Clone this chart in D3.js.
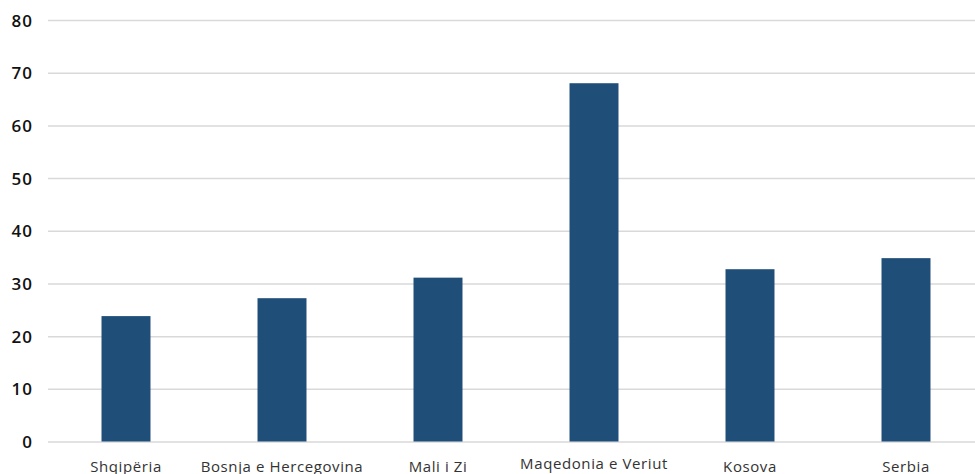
<!DOCTYPE html>
<html>
<head>
<meta charset="utf-8">
<script src="https://cdn.jsdelivr.net/npm/d3@7"></script>
<style>
html,body{margin:0;padding:0;background:#fff;overflow:hidden;}
svg{display:block;}
</style>
</head>
<body>
<svg id="chart" width="975" height="474"></svg>
<script>
const categories = ["Shqipëria", "Bosnja e Hercegovina", "Mali i Zi", "Maqedonia e Veriut", "Kosova", "Serbia"];
const values = [23.8, 27.2, 31.1, 68.0, 32.7, 34.8];
const yTicks = [0, 10, 20, 30, 40, 50, 60, 70, 80];

const svg = d3.select("#chart");
const W = 975, H = 474;
const mLeft = 48, mTop = 20, mBottom = 441.5;

const x = d3.scaleBand().domain(categories).range([mLeft, mLeft + 936])
  .paddingInner(0.686).paddingOuter(0.343);
const y = d3.scaleLinear().domain([0, 80]).range([mBottom, mTop]);

// gridlines
const yAxis = d3.axisLeft(y).tickValues(yTicks).tickSize(-(W - mLeft)).tickPadding(16).tickFormat(d3.format("d"));
const gy = svg.append("g").attr("transform", `translate(${mLeft},0)`).call(yAxis);
gy.select(".domain").remove();
gy.selectAll(".tick line").attr("stroke", "#d9d9d9").attr("stroke-width", 1.5);
gy.selectAll(".tick text")
  .attr("fill", "#111")
  .style("font-family", "'Open Sans', sans-serif")
  .style("font-weight", "600")
  .style("font-size", "17px")
  .style("letter-spacing", "1px")
  .attr("x", -15)
  .attr("dy", "0.36em");

// bars
svg.append("g").selectAll("rect").data(values).join("rect")
  .attr("x", (d, i) => x(categories[i]))
  .attr("y", d => y(d))
  .attr("width", x.bandwidth())
  .attr("height", d => y(0) - y(d))
  .attr("fill", "#1f4e79");

// x labels
const gx = svg.append("g").attr("transform", `translate(0,${mBottom})`)
  .call(d3.axisBottom(x).tickSize(0).tickPadding(0));
gx.select(".domain").remove();
gx.selectAll(".tick text")
  .attr("fill", "#333")
  .style("font-family", "'Open Sans', sans-serif")
  .style("font-size", "15px")
  .style("letter-spacing", "0.6px")
  .attr("dy", null)
  .attr("y", d => d === "Maqedonia e Veriut" ? 27 : 30);
</script>
</body>
</html>
